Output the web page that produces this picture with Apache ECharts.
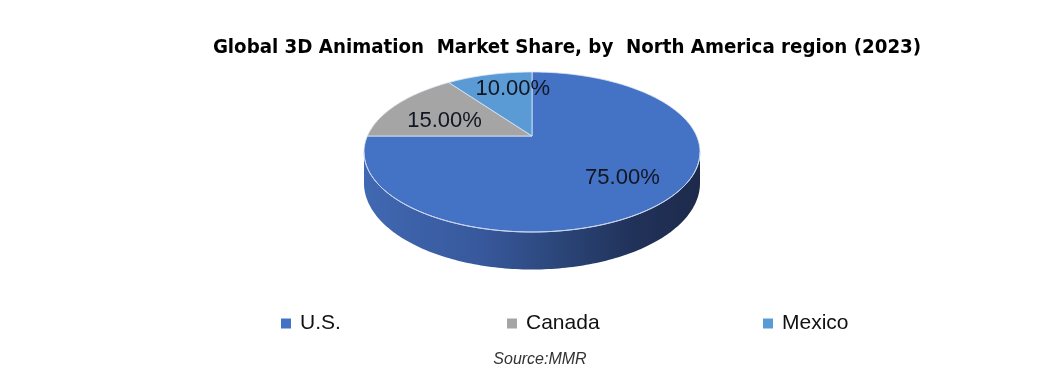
<!DOCTYPE html>
<html>
<head>
<meta charset="utf-8">
<script src="https://cdn.jsdelivr.net/npm/echarts@6/dist/echarts.min.js"></script>
<style>
  html, body { margin: 0; padding: 0; background: #ffffff; }
  #chart { width: 1064px; height: 378px; }
</style>
</head>
<body>
<div id="chart"></div>
<script>
// ---- data ----
const categories = ['U.S.', 'Canada', 'Mexico'];
const shares = [75, 15, 10];
const titleText = 'Global 3D Animation  Market Share, by  North America region (2023)';
const sourceText = 'Source:MMR';

// ---- styles / layout ----
const sliceColors = ['#4472C4', '#A5A5A5', '#5B9BD5'];
const wallStops = [
  { offset: 0, color: '#4168b2' },
  { offset: 0.35, color: '#37589c' },
  { offset: 0.6, color: '#2a4476' },
  { offset: 0.8, color: '#21325a' },
  { offset: 1, color: '#1d2a4b' }
];
const geo = { cx: 532, cy: 136, A: 164.6, B: 76.8, p: 0.2, D: 30 };
const labelRadius = [0.7, 0.6, 0.72];
const labelShift = [[0, 0], [-4, 5], [13, -1]];

const total = shares.reduce((a, b) => a + b, 0);
const deg = Math.PI / 180;

function project(theta, r, drop) {
  const u = r * Math.sin(theta * deg);
  const w = -r * Math.cos(theta * deg);
  const g = 1 / (1 - geo.p * w);
  return [geo.cx + geo.A * u * g, geo.cy + geo.B * w * g + (drop ? geo.D * g : 0)];
}
function arcPoints(a0, a1, drop) {
  const pts = [];
  const n = Math.max(2, Math.ceil((a1 - a0) / 1));
  for (let k = 0; k <= n; k++) pts.push(project(a0 + (a1 - a0) * k / n, 1, drop));
  return pts;
}
// visible wall range: between horizontal extremes of the projected rim
const tangent = Math.asin(geo.p) / deg;
const wallFrom = 90 + tangent, wallTo = 270 - tangent;

function renderSlice(params, api) {
  const i = params.seriesIndex;
  const value = api.value(0);
  let start = 0;
  for (let k = 0; k < i; k++) start += shares[k] / total * 360;
  const end = start + value / total * 360;
  const children = [];

  // side wall
  const w0 = Math.max(start, wallFrom), w1 = Math.min(end, wallTo);
  if (w1 > w0) {
    const top = arcPoints(w0, w1, false);
    const bottom = arcPoints(w0, w1, true).reverse();
    const left = project(wallTo, 1, false)[0];
    const right = project(wallFrom, 1, false)[0];
    children.push({
      type: 'polygon', z2: 1,
      shape: { points: top.concat(bottom) },
      style: {
        fill: { type: 'linear', x: left, y: 0, x2: right, y2: 0, global: true, colorStops: wallStops },
        stroke: null
      }
    });
    children.push({
      type: 'polyline', z2: 20,
      shape: { points: top },
      style: { stroke: '#c9d6ef', lineWidth: 1, fill: null }
    });
  }

  // top face
  const face = [[geo.cx, geo.cy]].concat(arcPoints(start, end, false));
  children.push({
    type: 'polygon', z2: 10,
    shape: { points: face },
    style: { fill: sliceColors[i], stroke: '#dfe6f3', lineWidth: 0.8, lineJoin: 'round' }
  });

  // label
  const mid = (start + end) / 2;
  const lp = project(mid, labelRadius[i], false);
  children.push({
    type: 'text', z2: 30,
    x: lp[0] + labelShift[i][0], y: lp[1] + labelShift[i][1],
    style: {
      text: (value / total * 100).toFixed(2) + '%',
      fill: '#111622',
      font: '22px "Liberation Sans", Arial, sans-serif',
      align: 'center', verticalAlign: 'middle'
    }
  });
  return { type: 'group', children: children };
}

const legendLeft = [276, 502, 758];
const chart = echarts.init(document.getElementById('chart'), null, { renderer: 'canvas' });
chart.setOption({
  backgroundColor: '#ffffff',
  animation: false,
  title: [{
    text: titleText,
    left: 562, top: 33, textAlign: 'center',
    textStyle: { fontFamily: '"Liberation Sans Narrow", "DejaVu Sans Condensed", Arial, sans-serif', fontWeight: 'bold', fontSize: 20.3, color: '#000000' }
  }, {
    text: sourceText,
    left: 535, top: 347, textAlign: 'center',
    textStyle: { fontFamily: '"Liberation Sans", Arial, sans-serif', fontStyle: 'italic', fontWeight: 'normal', fontSize: 16, color: '#333333' }
  }],
  legend: categories.map((c, i) => ({
    data: [c],
    left: legendLeft[i], top: 308,
    icon: 'rect', itemWidth: 10, itemHeight: 10, itemGap: 0,
    selectedMode: false,
    textStyle: { fontFamily: '"Liberation Sans", Arial, sans-serif', fontSize: 21, color: '#111111', padding: [0, 0, 0, 4] }
  })),
  series: categories.map((c, i) => ({
    type: 'custom',
    name: c,
    coordinateSystem: 'none',
    itemStyle: { color: sliceColors[i] },
    renderItem: renderSlice,
    data: [[shares[i]]],
    silent: true
  }))
});
</script>
</body>
</html>
